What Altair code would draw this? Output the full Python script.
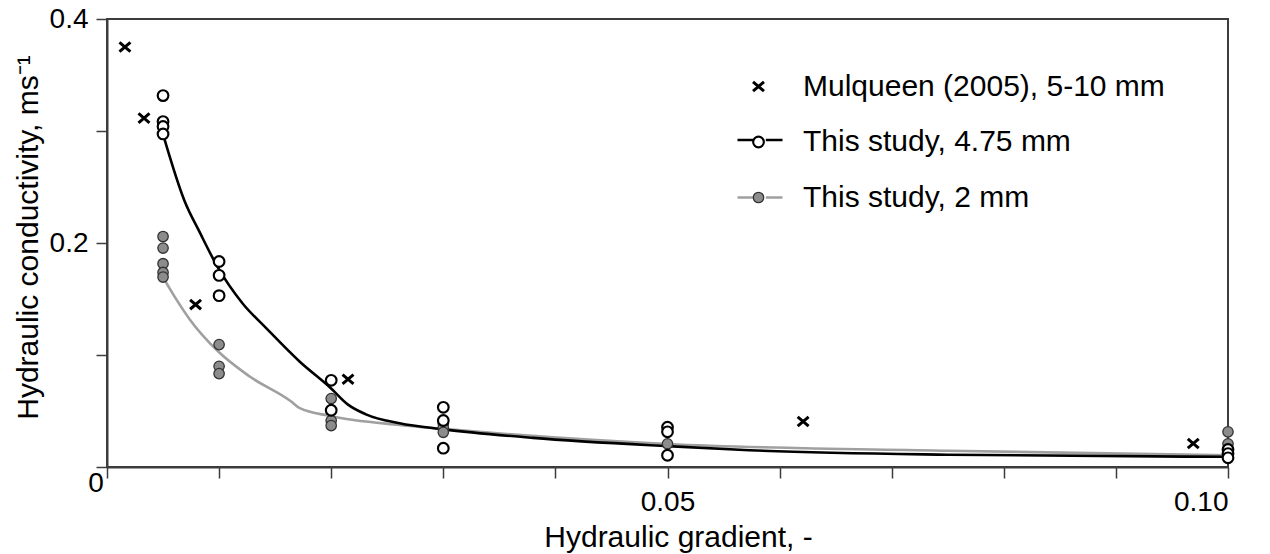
import altair as alt
import pandas as pd

FONT = "Liberation Sans"
AXIS_COLOR = "#3c3c3c"
GREY_FILL = "#8c8c8c"
GREY_LINE = "#a0a0a0"

# Mulqueen (2005), 5-10 mm
mulq_grad = [0.0016, 0.0033, 0.0079, 0.0215, 0.0621, 0.0969]
mulq_k = [0.375, 0.3115, 0.145, 0.0784, 0.0406, 0.021]

# This study, 4.75 mm - measurements
d475_grad = [0.005, 0.005, 0.005, 0.005, 0.01, 0.01, 0.01, 0.02, 0.02,
             0.03, 0.03, 0.03, 0.05, 0.05, 0.05, 0.1, 0.1, 0.1]
d475_k = [0.3316, 0.3084, 0.304, 0.2974, 0.1835, 0.1711, 0.153, 0.0774, 0.0507,
          0.0533, 0.0415, 0.0168, 0.0355, 0.0314, 0.0105, 0.0156, 0.012, 0.0082]

# This study, 2 mm - measurements
d2_grad = [0.005, 0.005, 0.005, 0.005, 0.005, 0.01, 0.01, 0.01, 0.02, 0.02, 0.02,
           0.03, 0.03, 0.03, 0.05, 0.1, 0.1]
d2_k = [0.2058, 0.1955, 0.1815, 0.1737, 0.1696, 0.1093, 0.0899, 0.0834, 0.0611, 0.0415,
        0.037, 0.0388, 0.035, 0.031, 0.0207, 0.0314, 0.0207]

# fitted curves
fit475_grad = [0.005, 0.0069, 0.0083, 0.0099, 0.0121, 0.0142, 0.0172, 0.0199, 0.0215,
               0.0231, 0.0261, 0.030, 0.038, 0.050, 0.0573, 0.075, 0.1]
fit475_k = [0.297, 0.238, 0.209, 0.178, 0.146, 0.124, 0.094, 0.071, 0.0557,
            0.047, 0.039, 0.0336, 0.026, 0.0186, 0.015, 0.011, 0.0091]
fit2_grad = [0.005, 0.0062, 0.0074, 0.0099, 0.0127, 0.0164, 0.0172, 0.0199, 0.0261,
             0.030, 0.050, 0.075, 0.1]
fit2_k = [0.1696, 0.1494, 0.1315, 0.1033, 0.081, 0.0587, 0.0525, 0.0456, 0.0375,
          0.034, 0.0205, 0.0145, 0.0105]

series = ["Mulqueen (2005), 5-10 mm", "This study, 4.75 mm", "This study, 2 mm"]
curves = ["This study, 4.75 mm", "This study, 2 mm"]

x_ticks = [0, 0.01, 0.02, 0.03, 0.04, 0.05, 0.06, 0.07, 0.08, 0.09, 0.1]
y_ticks = [0, 0.1, 0.2, 0.3, 0.4]

X_PATH = "M-1,-0.85L1,0.85M1,-0.85L-1,0.85"
LEG_LINE = "M-1,0H-0.26M0.26,0H1"

points = pd.concat([
    pd.DataFrame({"grad": mulq_grad, "k": mulq_k, "series": series[0]}),
    pd.DataFrame({"grad": d475_grad, "k": d475_k, "series": series[1]}),
    pd.DataFrame({"grad": d2_grad, "k": d2_k, "series": series[2]}),
], ignore_index=True)
points["order"] = points["series"].map({series[2]: 0, series[1]: 1, series[0]: 2})

fits = pd.concat([
    pd.DataFrame({"grad": fit2_grad, "k": fit2_k, "curve": curves[1], "order": 0}),
    pd.DataFrame({"grad": fit475_grad, "k": fit475_k, "curve": curves[0], "order": 1}),
], ignore_index=True)

x_enc = alt.X(
    "grad:Q",
    scale=alt.Scale(domain=[0, 0.1], nice=False, zero=False),
    axis=alt.Axis(
        title="Hydraulic gradient, -",
        values=x_ticks,
        labelExpr="datum.value == 0.05 ? '0.05' : datum.value == 0.1 ? '0.10' : ''",
        labelPadding=10,
        titlePadding=6,
        titleX=571,
    ),
)
y_enc = alt.Y(
    "k:Q",
    scale=alt.Scale(domain=[0, 0.4], nice=False, zero=False),
    axis=alt.Axis(
        title="Hydraulic conductivity, ms\u207b\u00b9",
        values=y_ticks,
        labelExpr="datum.value == 0.2 ? '0.2' : datum.value == 0.4 ? '0.4' : ''",
        labelPadding=8,
        titlePadding=6,
        titleY=218,
    ),
)

# fitted curves; their legend only supplies the line segments behind the markers
lines = alt.Chart(fits).mark_line(interpolate="monotone", strokeWidth=2.6).encode(
    x=x_enc, y=y_enc,
    color=alt.Color(
        "curve:N",
        scale=alt.Scale(domain=curves, range=["black", GREY_LINE]),
        legend=alt.Legend(
            title=None, orient="none", padding=0,
            labelExpr="''", labelFontSize=30,
            symbolType=LEG_LINE, symbolSize=2025, symbolStrokeWidth=2.6,
            legendX=629, legendY=97, rowPadding=18.5,
        ),
    ),
    detail="curve:N",
    order="order:Q",
)

pt_legend = alt.Legend(
    title=None, orient="none", padding=0,
    labelFont=FONT, labelFontSize=30, labelLimit=0, labelColor="black",
    legendX=636.5, legendY=52.5, rowPadding=25.5, labelOffset=29.5,
)

pts = alt.Chart(points).mark_point(opacity=1, filled=True).encode(
    x=x_enc, y=y_enc,
    shape=alt.Shape("series:N", scale=alt.Scale(domain=series, range=[X_PATH, "circle", "circle"]),
                    legend=pt_legend),
    fill=alt.Fill("series:N", scale=alt.Scale(domain=series, range=["black", "white", GREY_FILL]),
                  legend=pt_legend),
    stroke=alt.Stroke("series:N", scale=alt.Scale(domain=series, range=["black", "black", "#333333"]),
                      legend=pt_legend),
    size=alt.Size("series:N", scale=alt.Scale(domain=series, range=[120, 108, 108]),
                  legend=pt_legend),
    strokeWidth=alt.StrokeWidth("series:N", scale=alt.Scale(domain=series, range=[3, 1.3, 1.3]),
                                legend=pt_legend),
    order="order:Q",
)

zero_label = alt.Chart(pd.DataFrame({"t": ["0"]})).mark_text(
    font=FONT, fontSize=28, color="black", dx=-11, dy=17,
    align="center", baseline="middle"
).encode(x=alt.datum(0), y=alt.datum(0), text="t:N")

chart = alt.layer(lines, pts, zero_label).properties(
    width=1121, height=448,
    autosize=alt.AutoSizeParams(type="none"),
    padding={"left": 107, "top": 19, "right": 42, "bottom": 87},
    background="white",
).configure_view(
    stroke=AXIS_COLOR, strokeWidth=2
).configure_axis(
    grid=False,
    domainColor=AXIS_COLOR, domainWidth=2,
    tickColor=AXIS_COLOR, tickWidth=1.5, tickSize=11,
    labelFont=FONT, labelFontSize=28, labelColor="black",
    titleFont=FONT, titleFontSize=30, titleColor="black", titleFontWeight="normal",
    labelOverlap=False,
)

chart.save("out.html", embed_options={"renderer": "svg", "actions": False})
